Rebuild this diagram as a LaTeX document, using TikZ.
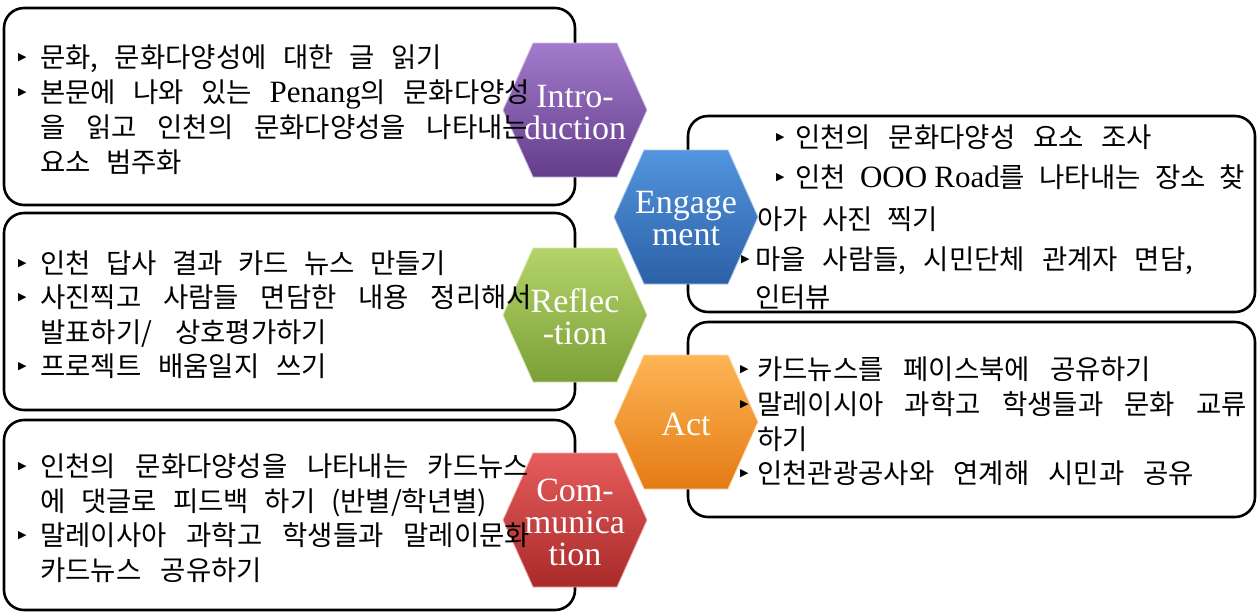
\documentclass[tikz,border=0pt]{standalone}
\usepackage{fontspec}
\setmainfont{Noto Sans CJK KR}[WordSpace=2.5]
\newfontfamily\latinserif{Liberation Serif}
\newfontfamily\symbolfont{DejaVu Sans}
\newcommand\lat[1]{{\latinserif\fontsize{31}{27.5}\selectfont #1}}

\definecolor{introtop}{HTML}{A27BCC}
\definecolor{introbot}{HTML}{633C8A}
\definecolor{engtop}{HTML}{5295DE}
\definecolor{engbot}{HTML}{2C60A6}
\definecolor{reftop}{HTML}{B4D46A}
\definecolor{refbot}{HTML}{7B9F36}
\definecolor{acttop}{HTML}{FDB556}
\definecolor{actbot}{HTML}{E47B14}
\definecolor{comtop}{HTML}{E65C5C}
\definecolor{combot}{HTML}{A92A2A}

\tikzset{
  panel/.style={draw=black, line width=2.6pt, rounded corners=20pt, fill=white},
  txt/.style={anchor=base west, inner sep=0pt, font=\fontsize{27.5}{27.5}\selectfont},
  bul/.style={anchor=west, inner sep=0pt, font=\symbolfont\fontsize{11}{11}\selectfont},
  hexlabel/.style={text=white, align=center, inner sep=0pt,
    font=\latinserif\fontsize{34}{32}\selectfont},
}

\begin{document}
\begin{tikzpicture}[x=1pt,y=-1pt]
\useasboundingbox (0,0) rectangle (1258,614);

% boxes
\draw[panel] (4,8) rectangle (575,205);
\draw[panel] (688,116) rectangle (1255,312);
\draw[panel] (4,213) rectangle (575,410);
\draw[panel] (688,322) rectangle (1255,517);
\draw[panel] (4,420) rectangle (575,610);

% hexagons
\foreach \hx/\hy/\ca/\cb in {575/110/introtop/introbot, 686/217/engtop/engbot,
    575/315/reftop/refbot, 686/422/acttop/actbot, 575/520/comtop/combot}
  \shade[top color=\ca, bottom color=\cb, draw=\ca!50!white, line width=0.8pt,
    shift={(\hx,\hy)}] (-72,0) -- (-42,-67) -- (42,-67) -- (72,0) -- (42,67) -- (-42,67) -- cycle;

\node[hexlabel] (intro) at (575,113) {Intro-\\duction};
\node[hexlabel] (engage) at (686,219) {Engage\\ment};
\node[hexlabel] (reflect) at (575,317) {Reflec\\-tion};
\node[hexlabel] (act) at (686,424) {Act};
\node[hexlabel] (comm) at (575,522) {Com-\\munica\\tion};

% introduction
\node[bul] (ib1) at (18,58) {▶};
\node[bul] (ib2) at (18,93) {▶};
\node[txt] (intro1) at (40,67) {\makebox[402pt][s]{문화, 문화다양성에 대한 글 읽기}};
\node[txt] (intro2) at (40,102) {\makebox[490pt][s]{본문에 나와 있는 \lat{Penang}의 문화다양성}};
\node[txt] (intro3) at (40,137) {\makebox[488pt][s]{을 읽고 인천의 문화다양성을 나타내는}};
\node[txt] (intro4) at (40,172) {요소 범주화};

% engagement
\node[bul] (eb1) at (776,138) {▶};
\node[bul] (eb2) at (776,178) {▶};
\node[bul] (eb4) at (741,260) {▶};
\node[txt] (eng1) at (795,147) {\makebox[357pt][s]{인천의 문화다양성 요소 조사}};
\node[txt] (eng2) at (795,187) {\makebox[450pt][s]{인천 \lat{OOO Road}를 나타내는 장소 찾}};
\node[txt] (eng3) at (757,229) {\makebox[181pt][s]{아가 사진 찍기}};
\node[txt] (eng4) at (755,269) {\makebox[438pt][s]{마을 사람들, 시민단체 관계자 면담,}};
\node[txt] (eng5) at (755,307) {인터뷰};

% reflection
\node[bul] (rb1) at (18,264) {▶};
\node[bul] (rb2) at (18,298) {▶};
\node[bul] (rb4) at (18,367) {▶};
\node[txt] (ref1) at (40,273) {\makebox[406pt][s]{인천 답사 결과 카드 뉴스 만들기}};
\node[txt] (ref2) at (40,307) {\makebox[492pt][s]{사진찍고 사람들 면담한 내용 정리해서}};
\node[txt] (ref3) at (40,342) {\makebox[287pt][s]{발표하기/ 상호평가하기}};
\node[txt] (ref4) at (40,376) {\makebox[287pt][s]{프로젝트 배움일지 쓰기}};

% act
\node[bul] (ab1) at (740,370) {▶};
\node[bul] (ab2) at (740,405) {▶};
\node[bul] (ab4) at (740,474) {▶};
\node[txt] (act1) at (757,379) {\makebox[394pt][s]{카드뉴스를 페이스북에 공유하기}};
\node[txt] (act2) at (757,414) {\makebox[490pt][s]{말레이시아 과학고 학생들과 문화 교류}};
\node[txt] (act3) at (757,449) {하기};
\node[txt] (act4) at (757,483) {\makebox[437pt][s]{인천관광공사와 연계해 시민과 공유}};

% communication
\node[bul] (cb1) at (18,467) {▶};
\node[bul] (cb3) at (18,536) {▶};
\node[txt] (com1) at (40,476) {\makebox[489pt][s]{인천의 문화다양성을 나타내는 카드뉴스}};
\node[txt] (com2) at (40,511) {\makebox[447pt][s]{에 댓글로 피드백 하기 (반별/학년별)}};
\node[txt] (com3) at (40,545) {\makebox[490pt][s]{말레이사아 과학고 학생들과 말레이문화}};
\node[txt] (com4) at (40,580) {\makebox[222pt][s]{카드뉴스 공유하기}};
\end{tikzpicture}
\end{document}
